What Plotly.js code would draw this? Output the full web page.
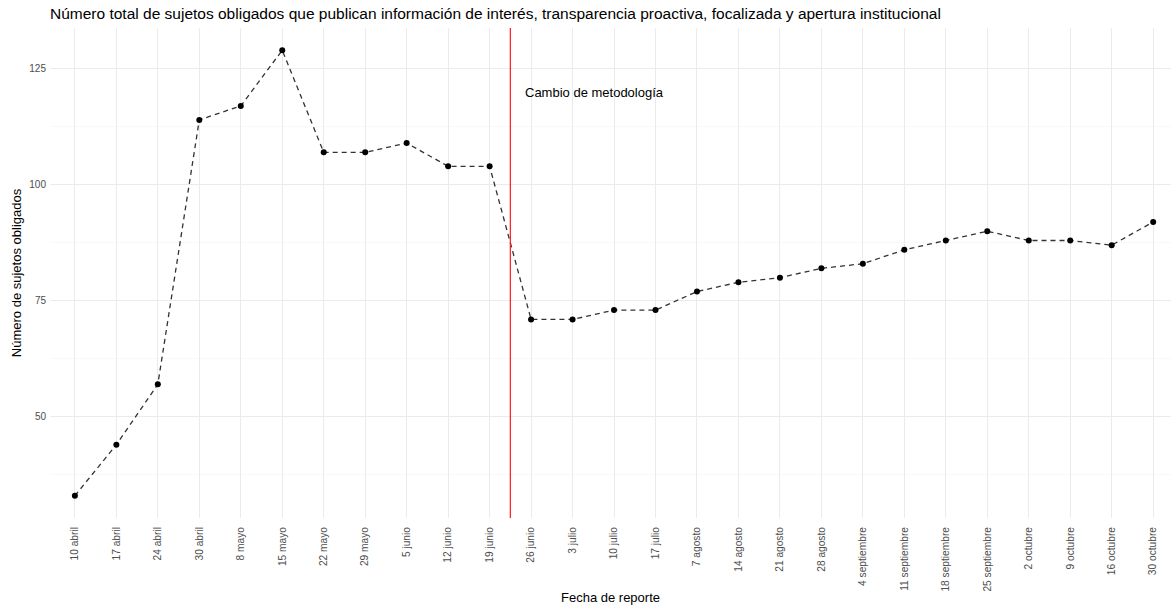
<!DOCTYPE html>
<html>
<head>
<meta charset="utf-8">
<script src="https://cdn.plot.ly/plotly-3.0.1.min.js"></script>
<style>html,body{margin:0;padding:0;background:#fff;}#chart{width:1171px;height:609px;}</style>
</head>
<body>
<div id="chart"></div>
<script>
const fechas = ["10 abril","17 abril","24 abril","30 abril","8 mayo","15 mayo","22 mayo","29 mayo","5 junio","12 junio","19 junio","26 junio","3 julio","10 julio","17 julio","7 agosto","14 agosto","21 agosto","28 agosto","4 septiembre","11 septiembre","18 septiembre","25 septiembre","2 octubre","9 octubre","16 octubre","30 octubre"];
const sujetos = [33,44,57,114,117,129,107,107,109,104,104,71,71,73,73,77,79,80,82,83,86,88,90,88,88,87,92];
const cambioPos = 10.5;
const cambioTexto = "Cambio de metodología";

const font = "Liberation Sans, Arial, Helvetica, sans-serif";
const trace = {
  x: fechas, y: sujetos, type: "scatter", mode: "lines+markers",
  line: {color: "#333333", width: 1.3, dash: "5px,4px"},
  marker: {color: "#000000", size: 6},
  hoverinfo: "x+y"
};
const layout = {
  width: 1171, height: 609,
  margin: {l: 50, r: 0, t: 28, b: 91},
  paper_bgcolor: "#ffffff", plot_bgcolor: "#ffffff",
  showlegend: false,
  font: {family: font, color: "#000"},
  title: {text: "Número total de sujetos obligados que publican información de interés, transparencia proactiva, focalizada y apertura institucional",
          x: 0, xref: "paper", xanchor: "left", y: 0.978, yanchor: "middle",
          font: {size: 15.5, color: "#000"}},
  xaxis: {
    type: "category", range: [-0.6, 26.43],
    tickangle: -90, ticks: "", showline: false, zeroline: false,
    ticklabelstandoff: 6,
    tickfont: {size: 10.2, color: "#4d4d4d"},
    gridcolor: "#ebebeb", gridwidth: 1,
    title: {text: "Fecha de reporte", font: {size: 13, color: "#000"}, standoff: 2}
  },
  yaxis: {
    range: [28.2, 133.8], tickvals: [50,75,100,125], ticks: "", showline: false, zeroline: false,
    ticklabelstandoff: 3,
    tickfont: {size: 10, color: "#4d4d4d"},
    gridcolor: "#ebebeb", gridwidth: 1,
    minor: {tickvals: [37.5,62.5,87.5,112.5], showgrid: true, gridcolor: "#f3f3f3", gridwidth: 0.6},
    title: {text: "Número de sujetos obligados", font: {size: 13, color: "#000"}, standoff: 4}
  },
  shapes: [{type: "line", xref: "x", yref: "paper", x0: cambioPos, x1: cambioPos, y0: 0, y1: 1,
            line: {color: "#ff1a1a", width: 1.2}}],
  annotations: [{x: 10.8, y: 120, xref: "x", yref: "y", text: cambioTexto, showarrow: false,
                 xanchor: "left", yanchor: "middle", font: {size: 13, color: "#000"}}]
};
Plotly.newPlot("chart", [trace], layout, {displayModeBar: false, staticPlot: true});
</script>
</body>
</html>
